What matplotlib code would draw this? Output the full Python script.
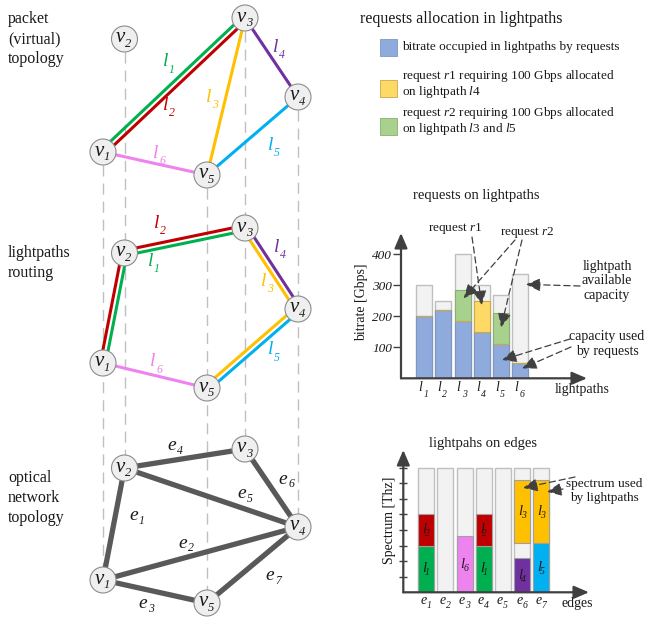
import numpy as np
import matplotlib.pyplot as plt
import matplotlib.transforms as mtransforms
from matplotlib.patches import Circle, Rectangle

plt.rcParams['font.family'] = 'Liberation Serif'
plt.rcParams['mathtext.fontset'] = 'custom'
plt.rcParams['mathtext.rm'] = 'Liberation Serif'
plt.rcParams['mathtext.it'] = 'Liberation Serif:italic'

# lightpaths l1..l6
lp_ids = ['1', '2', '3', '4', '5', '6']
lp_colors = ['#00B050', '#C00000', '#FFC000', '#7030A0', '#00B0F0', '#EE82EE']
lp_ends = [(1, 3), (1, 3), (5, 3), (3, 4), (5, 4), (1, 5)]
lp_routes = [[1, 2, 3], [1, 2, 3], [3, 4, 5], [3, 4], [4, 5], [1, 5]]

# fibre edges e1..e7
edge_ids = ['1', '2', '3', '4', '5', '6', '7']
edge_ends = [(1, 2), (1, 4), (1, 5), (2, 3), (2, 4), (3, 4), (4, 5)]

# bitrate per lightpath [Gbps]
lp_capacity = [300, 250, 400, 300, 270, 335]
lp_used = [200, 220, 185, 150, 110, 50]
r1_gbps = [0, 0, 0, 100, 0, 0]
r2_gbps = [0, 0, 100, 0, 100, 0]

# spectrum occupied on edges
edge_spectrum = [8, 8, 8, 8, 8, 8, 8]
lp_slot_lo = [0, 3, 3.15, 0, 0, 0]
lp_slot_hi = [3, 5, 7.2, 2.2, 3.15, 3.6]
lp_on_edges = [[1, 4], [1, 4], [6, 7], [6], [7], [3]]

W, H = 645, 619
TXT = '#1a1a1a'
AXC = '#404040'
fig = plt.figure(figsize=(W / 100, H / 100), dpi=100)
ax = fig.add_axes([0, 0, 1, 1])
ax.set_xlim(0, W)
ax.set_ylim(H, 0)
ax.axis('off')


def subscripted(axh, x, y, main, sub, size, subsize, color, mdx, mdy, sdx, sdy, tr=None):
    tr = axh.transData if tr is None else tr
    t1 = mtransforms.offset_copy(tr, fig=fig, x=mdx, y=-mdy, units='dots')
    t2 = mtransforms.offset_copy(tr, fig=fig, x=mdx + sdx, y=-(mdy + sdy), units='dots')
    axh.text(x, y, main, transform=t1, fontsize=size, style='italic', color=color,
             ha='center', va='center', zorder=6)
    axh.text(x, y, sub, transform=t2, fontsize=subsize, style='italic', color=color,
             ha='center', va='center', zorder=6)


# ---------------- network layers ----------------
node_x = {1: 103, 2: 124.5, 3: 245, 4: 298, 5: 207}
y_packet = {1: 152, 2: 39, 3: 18, 4: 97, 5: 175}
y_route = {1: 363, 2: 253, 3: 228, 4: 309, 5: 388}
y_optic = {1: 580, 2: 468, 3: 449, 4: 527, 5: 603}
R = 13

for n in node_x:
    ax.plot([node_x[n]] * 2, [y_packet[n] + R, y_optic[n] - R], color='#C0C0C0',
            lw=1.0, dashes=(8, 5), zorder=1)


def draw_path(ylay, path, side, color, gap=2.6):
    pts = [np.array([node_x[n], ylay[n]], float) for n in path]
    cen = np.mean([[node_x[n], ylay[n]] for n in node_x], axis=0)
    for a, b in zip(pts[:-1], pts[1:]):
        d = b - a
        nv = np.array([-d[1], d[0]]) / np.hypot(*d)
        if np.dot(nv, (a + b) / 2 - cen) < 0:
            nv = -nv
        off = nv * gap * side
        ax.plot([a[0] + off[0], b[0] + off[0]], [a[1] + off[1], b[1] + off[1]],
                color=color, lw=2.2, solid_capstyle='butt', zorder=2)


def draw_nodes(ylay):
    for n in node_x:
        ax.add_patch(Circle((node_x[n], ylay[n]), R, fc='#EFEFEF', ec='#8C8C8C',
                            lw=0.8, zorder=4))
        subscripted(ax, node_x[n], ylay[n], 'v', str(n), 15, 9, TXT, -4, -1, 8, 6)


# packet (virtual) topology
packet_side = [1, -1, 0, 0, 0, 0]
for i, (a, b) in enumerate(lp_ends):
    draw_path(y_packet, [a, b], packet_side[i], lp_colors[i])
draw_nodes(y_packet)
packet_lbl = [(166, 62), (166, 105), (209, 97), (276, 47), (271, 145), (156, 153)]
for i, (x, y) in enumerate(packet_lbl):
    subscripted(ax, x, y, 'l', lp_ids[i], 14, 8.5, lp_colors[i], 0, 0, 6, 8)

# lightpaths routing
route_side = [-1, 1, -1, 1, 1, 0]
for i, path in enumerate(lp_routes):
    draw_path(y_route, path, route_side[i], lp_colors[i])
draw_nodes(y_route)
route_lbl = [(151, 261), (157, 223), (264, 281), (277, 247), (271, 350), (153, 362)]
for i, (x, y) in enumerate(route_lbl):
    subscripted(ax, x, y, 'l', lp_ids[i], 14, 8.5, lp_colors[i], 0, 0, 6, 8)

# optical network topology
for a, b in edge_ends:
    ax.plot([node_x[a], node_x[b]], [y_optic[a], y_optic[b]], color='#595959',
            lw=3.8, solid_capstyle='butt', zorder=2)
draw_nodes(y_optic)
edge_lbl = [(134, 516), (183, 543), (143, 604), (172, 446), (242, 494), (283, 479), (270, 576)]
for i, (x, y) in enumerate(edge_lbl):
    subscripted(ax, x, y, 'e', edge_ids[i], 14, 8.5, TXT, 0, 0, 8, 5)

layer_kw = dict(fontsize=11.5, color=TXT, ha='left', va='center', linespacing=1.3)
ax.text(8, 39, 'packet\n(virtual)\ntopology', **layer_kw)
ax.text(8, 263, 'lightpaths\nrouting', **layer_kw)
ax.text(8, 498, 'optical\nnetwork\ntopology', **layer_kw)

# ---------------- legend ----------------
ax.text(360, 19, 'requests allocation in lightpaths', fontsize=11.5, color=TXT,
        ha='left', va='center')
sw = [(39, '#8FAADC', '#7F96C0'), (80, '#FFD966', '#C9A94A'), (118, '#A9D18E', '#8AAF73')]
for y, fc, ec in sw:
    ax.add_patch(Rectangle((380, y), 17, 17, fc=fc, ec=ec, lw=0.6))
leg_kw = dict(fontsize=9.5, color=TXT, ha='left', va='center', linespacing=1.0)
ax.text(402, 47, 'bitrate occupied in lightpaths by requests', **leg_kw)
ax.text(402, 84, 'request $\\mathit{r1}$ requiring 100 Gbps allocated\n'
        'on lightpath $\\mathit{l4}$', **leg_kw)
ax.text(402, 121, 'request $\\mathit{r2}$ requiring 100 Gbps allocated\n'
        'on lightpath $\\mathit{l3}$ and $\\mathit{l5}$', **leg_kw)

arrow_kw = dict(arrowstyle='-|>,head_length=0.55,head_width=0.25', color=AXC, lw=0.9,
                linestyle=(0, (5, 3)), mutation_scale=16, shrinkA=0, shrinkB=0)
axis_kw = dict(arrowstyle='-|>,head_length=0.7,head_width=0.3', color=AXC, lw=1.6,
               mutation_scale=13, shrinkA=0, shrinkB=0)


def chart_axes(x0, y0, x1, y1, first, pitch, per_unit):
    a = fig.add_axes([x0 / W, 1 - y0 / H, (x1 - x0) / W, (y0 - y1) / H])
    a.set_xlim(1 - (first - x0) / pitch, 1 + (x1 - first) / pitch)
    a.set_ylim(0, (y0 - y1) / per_unit)
    a.patch.set_alpha(0)
    for s in a.spines.values():
        s.set_visible(False)
    a.set_xticks([])
    a.annotate('', xy=(1, 0), xytext=(0, 0), xycoords='axes fraction',
               arrowprops=axis_kw, annotation_clip=False)
    a.annotate('', xy=(0, 1), xytext=(0, 0), xycoords='axes fraction',
               arrowprops=axis_kw, annotation_clip=False)
    return a


# ---------------- requests on lightpaths ----------------
ax1 = chart_axes(401, 378.3, 587, 233, 424.2, 19.2, 0.31)
xl = np.arange(1, len(lp_ids) + 1)
bw = 0.83
ax1.bar(xl, lp_capacity, bw, color='#F2F2F2', edgecolor='#BFBFBF', lw=1)
ax1.bar(xl, lp_used, bw, color='#8FAADC', edgecolor='#7F96C0', lw=0.8)
ax1.bar(xl, r2_gbps, bw, bottom=lp_used, color='#A9D18E', edgecolor='#8AAF73', lw=0.8)
ax1.bar(xl, r1_gbps, bw, bottom=lp_used, color='#FFD966', edgecolor='#C9A94A', lw=0.8)
ax1.set_yticks([100, 200, 300, 400])
ax1.set_yticklabels(['100', '200', '300', '400'], fontstyle='italic', fontsize=9.5, color=TXT)
ax1.tick_params(axis='y', direction='out', length=6, width=1, color=AXC, pad=0.5)
for i, lid in zip(xl, lp_ids):
    subscripted(ax1, i, 0, 'l', lid, 10, 7, TXT, -4, 9, 5.5, 7.5)

ax.text(476, 195, 'requests on lightpaths', fontsize=10.5, color=TXT, ha='center', va='center')
ax.text(362, 302, 'bitrate [Gbps]', fontsize=10, color=TXT, ha='center', va='center',
        rotation=90)
ax.text(582, 390, 'lightpaths', fontsize=10, color=TXT, ha='center', va='center')
ax.text(455, 228, r'request $\mathit{r1}$', fontsize=9.5, color=TXT, ha='center', va='center')
ax.text(527, 233, r'request $\mathit{r2}$', fontsize=9.5, color=TXT, ha='center', va='center')
ax.text(607, 281, 'lightpath\navailable\ncapacity', fontsize=10, color=TXT, ha='center',
        va='center', linespacing=1.15)
ax.text(607, 344, 'capacity used\nby requests', fontsize=10, color=TXT, ha='center',
        va='center', linespacing=1.2)

for xy, tail in [((4, 236), (472, 237)), ((3.05, 258), (515, 240)), ((5, 164), (522, 240)),
                 ((6.3, 303), (580, 286)), ((5.05, 59), (570, 339)), ((6.1, 32), (571, 347))]:
    ax1.annotate('', xy=xy, xytext=tail, textcoords=ax.transData, arrowprops=arrow_kw,
                 annotation_clip=False)

# ---------------- lightpaths on edges ----------------
ax2 = chart_axes(403.3, 592.3, 589, 450, 426.3, 19.17, 15.58)
xe = np.arange(1, len(edge_ids) + 1)
bw2 = 0.835
ax2.bar(xe, edge_spectrum, bw2, color='#F2F2F2', edgecolor='#BFBFBF', lw=1)
for i in range(len(lp_ids)):
    for e in lp_on_edges[i]:
        ax2.bar(e, lp_slot_hi[i] - lp_slot_lo[i], bw2, bottom=lp_slot_lo[i],
                color=lp_colors[i], edgecolor='#A0A0A0', lw=0.8)
        subscripted(ax2, e, (lp_slot_lo[i] + lp_slot_hi[i]) / 2, 'l', lp_ids[i], 10.5, 7,
                    TXT, -2, 0, 3, 4)
ax2.set_yticks(np.arange(1, 9))
ax2.set_yticklabels([])
ax2.tick_params(axis='y', direction='inout', length=6, width=1, color=AXC)
for i, eid in zip(xe, edge_ids):
    subscripted(ax2, i, 0, 'e', eid, 10, 7, TXT, -3, 8, 5.5, 5)

ax.text(483, 443, 'lightpahs on edges', fontsize=10.5, color=TXT, ha='center', va='center')
ax.text(390, 520, 'Spectrum [Thz]', fontsize=10, color=TXT, ha='center', va='center',
        rotation=90)
ax.text(577, 604, 'edges', fontsize=10, color=TXT, ha='center', va='center')
ax.text(604, 491, 'spectrum used\nby lightpaths', fontsize=9.5, color=TXT, ha='center',
        va='center', linespacing=1.2)
for xy, tail in [((6.05, 6.7), (575, 477)), ((7.3, 6.45), (563, 489))]:
    ax2.annotate('', xy=xy, xytext=tail, textcoords=ax.transData, arrowprops=arrow_kw,
                 annotation_clip=False)

fig.savefig('out.png', dpi=100)
